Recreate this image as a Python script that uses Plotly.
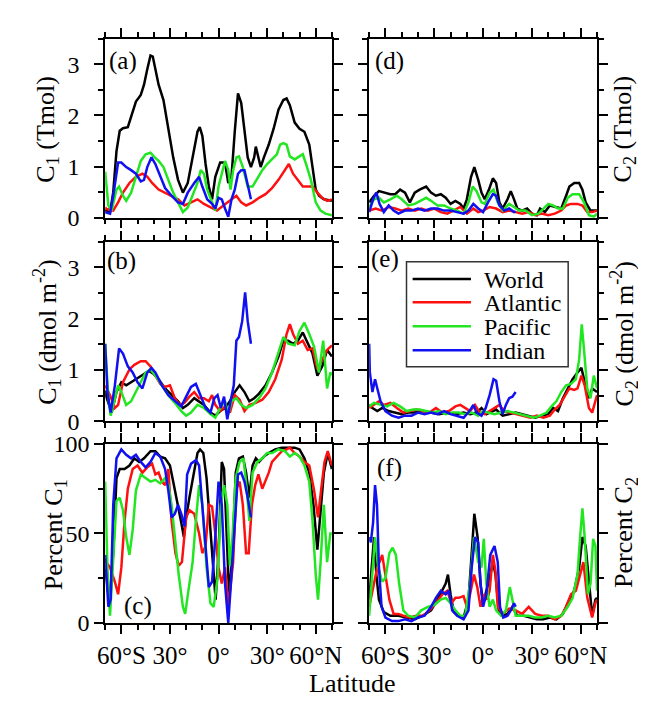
import plotly.graph_objects as go

# ---------------- data: [latitude, value] pairs ----------------
SERIES = ["World", "Atlantic", "Pacific", "Indian"]

# (a) C1 (Tmol)
A_WORLD = [[-70,0.15],[-67,0.1],[-65,0.5],[-63,1.3],[-61,1.7],[-59,1.75],[-56,1.77],[-53,2.1],[-51,2.27],[-48,2.4],[-46,2.6],[-44,2.9],[-42,3.17],[-40.6,3.15],[-39,2.9],[-37,2.6],[-34,2.3],[-31,1.74],[-28,1.18],[-25,0.74],[-22,0.49],[-19,0.68],[-16,1.18],[-13,1.68],[-11.6,1.77],[-10,1.6],[-8,1.05],[-6,0.61],[-4,0.36],[-2,0.8],[1,1.08],[4,1.08],[6,0.68],[8,0.8],[10,1.68],[12,2.43],[14,2.24],[16,1.68],[18,1.18],[20,0.99],[22,1.18],[23,1.39],[24.6,1.18],[26,0.99],[28,1.18],[31,1.43],[34,1.74],[37,2.11],[40,2.3],[42,2.33],[44,2.2],[47,1.86],[50,1.74],[53,1.68],[56,1.43],[58,0.99],[60,0.55],[62,0.43],[65,0.36],[70,0.33]]
A_ATLANTIC = [[-70,0.2],[-69,0.17],[-65,0.14],[-62,0.3],[-59,0.49],[-55,0.68],[-51,0.8],[-47,0.86],[-44,0.8],[-41,0.68],[-37,0.55],[-33,0.49],[-29,0.43],[-25,0.36],[-21,0.24],[-17,0.3],[-13,0.36],[-9,0.27],[-5,0.21],[-1,0.14],[3,0.24],[7,0.33],[11,0.43],[14,0.3],[17,0.24],[21,0.3],[25,0.39],[29,0.46],[33,0.58],[37,0.74],[41,0.93],[43.4,1.05],[46,0.86],[49,0.74],[52,0.61],[55,0.61],[58,0.61],[61,0.49],[64,0.39],[67,0.33],[70,0.36]]
A_PACIFIC = [[-70,0.9],[-68,0.24],[-66,0.14],[-63,0.55],[-61.4,0.61],[-59,0.43],[-57,0.33],[-54,0.49],[-51,0.8],[-48,1.11],[-45,1.24],[-42,1.27],[-40,1.2],[-37,1.11],[-34,0.99],[-31,0.74],[-28,0.49],[-25,0.3],[-22,0.11],[-19,0.2],[-16,0.43],[-13,0.68],[-11,0.93],[-9,0.86],[-7,0.55],[-4,0.3],[-2,0.14],[0,0.61],[2,0.86],[4,1.11],[6,0.93],[7.4,0.55],[9,0.93],[11,1.18],[12.6,1.2],[15,0.99],[18,0.61],[21,0.61],[24,0.77],[27,0.93],[30,1.05],[33,1.14],[36,1.24],[38,1.43],[40,1.46],[42,1.43],[44,1.2],[47,1.14],[50,1.2],[52,1.24],[54,1.05],[57,0.74],[60,0.3],[63,0.14],[66,0.08],[70,0.05]]
A_INDIAN = [[-70,0.11],[-67,0.08],[-65,0.43],[-62,1.08],[-60,1.08],[-57,0.99],[-54,0.93],[-51,0.86],[-48,0.71],[-46,0.74],[-44,0.99],[-41.4,1.18],[-39,1.05],[-36,0.8],[-33,0.58],[-29,0.43],[-25,0.3],[-22,0.27],[-19,0.49],[-15,0.68],[-12,0.8],[-10,0.61],[-7,0.36],[-4,0.27],[-2,0.18],[0,0.39],[2,0.36],[4,0.18],[6,0.02],[8,0.36],[10,0.55],[12,0.86],[14,0.93],[16,0.93],[18,0.61],[20,0.36]]

# (b) C1 (dmol m-2)
B_WORLD = [[-70,0.6],[-69,0.45],[-66,0.17],[-63,0.57],[-60,0.76],[-57,0.7],[-54,0.76],[-51,0.82],[-47,0.89],[-43,0.98],[-40,0.92],[-37,0.82],[-33,0.64],[-29,0.51],[-25,0.39],[-22,0.26],[-19,0.32],[-15,0.45],[-12,0.39],[-9,0.32],[-5,0.17],[-2,0.11],[1,0.2],[4,0.26],[7,0.39],[10,0.57],[13,0.7],[16,0.57],[19,0.39],[22,0.45],[25,0.54],[29,0.7],[33,0.95],[37,1.26],[40,1.57],[43,1.57],[46,1.51],[49,1.57],[52,1.73],[55,1.51],[58,1.32],[61,0.89],[64,1.07],[67,1.39],[70,1.26]]
B_ATLANTIC = [[-70,0.7],[-67,0.51],[-64,0.26],[-62,0.32],[-59,0.76],[-55,1.01],[-52,1.1],[-48,1.17],[-45,1.17],[-42,1.07],[-39,0.89],[-36,0.73],[-33,0.67],[-30,0.7],[-27,0.45],[-24,0.32],[-21,0.36],[-18,0.48],[-15,0.57],[-12,0.45],[-9,0.45],[-6,0.39],[-4,0.51],[-2,0.32],[1,0.2],[4,0.29],[7,0.17],[10,0.51],[13,0.42],[16,0.2],[19,0.32],[23,0.36],[27,0.42],[31,0.57],[35,0.82],[39,1.2],[42,1.7],[44,1.89],[46,1.7],[49,1.51],[52,1.57],[55,1.39],[58,1.42],[61,1.01],[64,1.2],[67,1.39],[70,1.48]]
B_PACIFIC = [[-70,1.51],[-68,0.45],[-66.6,0.11],[-64,0.45],[-62,0.7],[-60,0.57],[-57,0.32],[-54,0.39],[-51,0.57],[-48,0.76],[-45,0.95],[-42,1.01],[-39,0.89],[-35,0.7],[-31,0.51],[-27,0.36],[-23,0.2],[-20,0.11],[-17,0.17],[-13,0.32],[-9,0.26],[-5,0.14],[-2,0.07],[1,0.26],[4,0.39],[6,0.14],[8,0.39],[11,0.45],[14,0.32],[17,0.26],[21,0.32],[25,0.45],[29,0.64],[33,0.95],[37,1.32],[40,1.64],[43,1.51],[47,1.48],[50,1.76],[53,1.92],[56,1.7],[59,1.45],[62,0.95],[64.6,1.57],[67,0.64],[69,0.95],[70,0.9]]
B_INDIAN = [[-70,1.51],[-68.6,0.57],[-66.6,0.17],[-64,0.7],[-61.4,1.42],[-59,1.32],[-56,1.07],[-53,0.95],[-50,0.76],[-47,0.64],[-44,0.95],[-41.4,1.04],[-39,0.95],[-35,0.7],[-31,0.51],[-27,0.39],[-23,0.29],[-20,0.48],[-17,0.67],[-14,0.73],[-11,0.51],[-8,0.26],[-5,0.17],[-2.6,0.45],[-0.6,0.51],[1.4,0.26],[3.4,0.48],[5.4,0.04],[7.4,0.39],[9.4,0.7],[11,1.57],[12.6,1.64],[14.6,1.95],[16.4,2.51],[18,1.95],[20,1.51]]

# (c) Percent C1
C_WORLD = [[-70,30],[-69.4,27],[-67.4,11],[-65,39],[-63,81],[-61,86],[-58,86],[-55,88],[-52,92],[-49,90],[-46,92],[-42,96],[-39,96],[-36,93],[-33,92],[-30,88],[-28,79],[-25,66],[-23,56],[-21.4,48],[-20,59],[-18,70],[-15,84],[-13,95],[-11.4,97],[-9.4,95],[-7.4,81],[-5.4,57],[-3.4,31],[-1.8,13],[0,39],[2,90],[3.4,86],[5,48],[6.6,14],[8.6,39],[10.6,84],[12.6,92],[15,93],[17,84],[19,70],[21,88],[23,92],[25,90],[28,93],[31,95],[35,97],[39,98],[43,98],[47,98],[50,97],[53,92],[56,84],[58.6,66],[61,41],[62.6,57],[65,84],[67.4,95],[70,86]]
C_ATLANTIC = [[-70,36],[-69.4,34],[-67,31],[-64,23],[-62,16],[-60,31],[-58,57],[-56,75],[-53,86],[-50,88],[-47,84],[-44,87],[-41,89],[-39,83],[-37,84],[-35,79],[-33,77],[-31,86],[-29,57],[-26.6,39],[-24.6,32],[-22.6,34],[-20,59],[-18,63],[-15,61],[-12,50],[-10,39],[-8,43],[-6,66],[-4,65],[-2,50],[0,31],[2,22],[4,31],[6,9],[7.4,22],[9,34],[11,75],[13,79],[15,66],[17,39],[18.6,39],[20.6,66],[22.6,77],[24.6,83],[27,75],[29,79],[31,84],[33,90],[36,93],[39,96],[42,97],[44,98],[47,95],[50,93],[53,90],[56,88],[59,74],[61.4,59],[63.4,75],[65.4,90],[67.4,96],[70,88]]
C_PACIFIC = [[-70,79],[-68.6,31],[-67,4],[-65,39],[-63,68],[-61,70],[-59,63],[-57,48],[-55,38],[-53,52],[-51,74],[-48,83],[-45,81],[-42,79],[-39,80],[-36,78],[-33,81],[-31,77],[-29,66],[-27,48],[-24.6,27],[-22,9],[-20.6,5],[-18.6,18],[-16,34],[-14,57],[-12,77],[-10,66],[-7.4,31],[-5,11],[-3,9],[-0.6,25],[1.4,66],[3.4,77],[5.4,66],[7,32],[8.6,48],[10.6,81],[13,90],[15.4,92],[17.4,75],[19,57],[21,84],[24,90],[27,92],[30,95],[33,95],[37,97],[41,96],[44,93],[47,95],[50,93],[53,88],[56,79],[58,57],[60,27],[61.4,13],[63,34],[65,66],[67,34],[69,50],[70,50]]
C_INDIAN = [[-70,38],[-68,9],[-66.6,13],[-65,66],[-63,92],[-60,97],[-57,94],[-54,92],[-51,94],[-48,90],[-45,87],[-42,90],[-39,95],[-36,93],[-33,86],[-31,74],[-29,59],[-27,61],[-25,66],[-23,61],[-21,54],[-19.4,83],[-17,89],[-14,91],[-12,88],[-10,66],[-8,39],[-6,20],[-4,23],[-2,48],[0,79],[2,66],[4,22],[6,0],[8,27],[10,57],[12,83],[14,84],[16,79],[18,70],[20,59]]

# (d) C2 (Tmol)
D_WORLD = [[-70,0.3],[-67,0.43],[-64,0.52],[-61,0.49],[-57,0.46],[-54,0.46],[-51,0.55],[-48,0.49],[-45,0.3],[-42,0.49],[-39,0.55],[-35,0.61],[-32,0.49],[-29,0.43],[-26,0.46],[-23,0.39],[-20,0.27],[-17,0.33],[-14,0.27],[-12,0.18],[-10,0.36],[-7.4,0.8],[-5.4,0.99],[-3,0.74],[-1,0.49],[1,0.36],[3.6,0.55],[6,0.77],[8,0.68],[10,0.3],[12,0.18],[15,0.36],[17,0.52],[19,0.36],[21,0.18],[24,0.14],[27,0.18],[30,0.08],[33,0.05],[35,0.18],[38,0.11],[41,0.24],[44,0.21],[48,0.18],[51,0.43],[53,0.61],[56,0.68],[59,0.68],[61,0.55],[63,0.3],[66,0.14],[70,0.14]]
D_ATLANTIC = [[-70,0.14],[-66,0.18],[-62,0.14],[-58,0.21],[-54,0.18],[-50,0.14],[-46,0.18],[-42,0.14],[-38,0.18],[-34,0.14],[-30,0.18],[-26,0.11],[-22,0.08],[-18,0.14],[-14,0.21],[-10,0.08],[-6,0.18],[-3,0.11],[0,0.14],[4,0.21],[8,0.18],[12,0.11],[16,0.14],[20,0.11],[24,0.08],[28,0.11],[32,0.05],[36,0.08],[40,0.05],[44,0.08],[48,0.14],[51,0.24],[54,0.27],[58,0.27],[61,0.24],[64,0.11],[67,0.11],[70,0.14]]
D_PACIFIC = [[-70,0.21],[-67,0.36],[-64,0.39],[-61,0.3],[-57,0.36],[-53,0.43],[-50,0.36],[-46,0.24],[-42,0.27],[-38,0.33],[-35,0.39],[-32,0.33],[-28,0.24],[-24,0.24],[-20,0.18],[-16,0.14],[-12,0.08],[-9,0.3],[-6.4,0.61],[-4,0.52],[-1,0.3],[1,0.27],[4,0.49],[6.4,0.55],[9,0.3],[12,0.14],[16,0.27],[19,0.21],[22,0.14],[26,0.14],[30,0.05],[34,0.08],[37,0.18],[40,0.27],[43,0.24],[46,0.18],[49,0.18],[52,0.39],[55,0.46],[59,0.46],[62,0.3],[65,0.05],[68,0.02],[70,0.08]]
D_INDIAN = [[-70,0.11],[-67.6,0.36],[-65.6,0.49],[-63.6,0.27],[-61,0.11],[-58,0.24],[-55,0.14],[-52,0.08],[-48,0.14],[-44,0.14],[-40,0.18],[-36,0.14],[-32,0.18],[-28,0.18],[-24,0.14],[-20,0.14],[-16,0.11],[-12,0.08],[-9,0.14],[-6,0.27],[-3,0.18],[0,0.11],[3,0.3],[6,0.46],[8,0.43],[10,0.24],[13,0.14],[16,0.18],[19,0.11],[20,0.12]]

# (e) C2 (dmol m-2)
E_WORLD = [[-70,0.32],[-68,0.26],[-65,0.2],[-62,0.26],[-58,0.2],[-54,0.17],[-50,0.14],[-46,0.17],[-42,0.17],[-37,0.2],[-32,0.17],[-27,0.14],[-22,0.17],[-17,0.14],[-12,0.17],[-8,0.14],[-4,0.17],[-1,0.26],[2,0.14],[6,0.2],[8,0.23],[12,0.11],[16,0.14],[20,0.17],[24,0.14],[28,0.11],[32,0.07],[36,0.11],[40,0.14],[43,0.26],[46,0.2],[49,0.45],[52,0.64],[55,0.82],[58,0.95],[60.4,1.04],[62.4,0.76],[65,0.45],[67,0.64],[70,0.57]]
E_ATLANTIC = [[-70,0.26],[-67,0.32],[-64,0.39],[-61,0.32],[-57,0.36],[-53,0.26],[-49,0.17],[-45,0.2],[-41,0.23],[-37,0.2],[-33,0.17],[-29,0.26],[-25,0.17],[-21,0.2],[-17,0.29],[-14,0.32],[-11,0.26],[-8,0.2],[-5,0.32],[-2,0.17],[1,0.14],[4,0.2],[7,0.26],[10,0.32],[13,0.2],[17,0.17],[21,0.14],[25,0.11],[29,0.07],[33,0.11],[37,0.07],[41,0.11],[44,0.23],[47,0.32],[50,0.48],[53,0.64],[56,0.61],[58,0.64],[60.4,0.89],[62.4,0.7],[65,0.26],[67,0.17],[70,0.51]]
E_PACIFIC = [[-70,0.29],[-67,0.36],[-63,0.32],[-59,0.29],[-55,0.36],[-51,0.29],[-47,0.2],[-43,0.23],[-39,0.23],[-35,0.2],[-31,0.17],[-27,0.2],[-23,0.14],[-19,0.17],[-15,0.17],[-11,0.14],[-7,0.17],[-3,0.11],[0,0.2],[3,0.17],[7,0.14],[11,0.17],[15,0.2],[19,0.17],[23,0.14],[27,0.11],[31,0.07],[35,0.11],[39,0.17],[42,0.29],[45,0.39],[48,0.57],[51,0.7],[54,0.73],[57,0.82],[59,1.2],[60.6,1.89],[62,1.39],[64,0.64],[66,0.45],[68,0.89],[70,0.64]]
E_INDIAN = [[-70,1.51],[-69.6,0.95],[-68,0.57],[-66.4,0.82],[-65,0.64],[-63,0.39],[-60,0.2],[-56,0.11],[-52,0.07],[-48,0.11],[-44,0.11],[-40,0.17],[-36,0.14],[-32,0.17],[-28,0.14],[-24,0.2],[-20,0.14],[-16,0.11],[-12,0.07],[-8.4,0.2],[-6,0.32],[-4,0.17],[-1,0.11],[1.6,0.26],[4,0.51],[6.4,0.82],[8,0.79],[10,0.39],[12,0.14],[14,0.32],[16,0.45],[18,0.48],[20,0.57]]

# (f) Percent C2
F_WORLD = [[-70,13],[-68.4,31],[-67,48],[-65.6,27],[-64,13],[-61,6],[-57,4],[-52,4],[-47,3],[-42,2],[-37,4],[-32,7],[-28,13],[-25,18],[-23,22],[-21.6,27],[-20,16],[-18,6],[-15,4],[-12,3],[-9,13],[-7,39],[-5.4,61],[-3.4,48],[-1.6,22],[0,11],[2,18],[4,25],[6,34],[7.6,27],[9.6,7],[12,4],[15,5],[18,9],[21,4],[25,4],[29,3],[33,2],[37,2],[41,3],[45,2],[49,5],[53,13],[56,18],[59,31],[61,48],[63,43],[65,22],[67,4],[69,13],[70,14]]
F_ATLANTIC = [[-70,9],[-68,18],[-65,31],[-62,38],[-60,27],[-57.6,13],[-55,5],[-52,5],[-49,4],[-45,3],[-41,4],[-37,4],[-33,7],[-29,11],[-25,16],[-22,18],[-19.6,11],[-17,14],[-15,14],[-12,15],[-10,9],[-8,16],[-5.6,27],[-3.6,20],[-1.6,9],[0.4,16],[2.4,13],[4,18],[6,38],[7.6,29],[9,9],[12,5],[16,8],[20,7],[24,5],[28,9],[32,5],[36,4],[40,4],[44,2],[48,4],[51,9],[54,16],[57,18],[59.6,27],[61.6,34],[64,14],[67,3],[69,11],[70,13]]
F_PACIFIC = [[-70,4],[-68.4,25],[-66.4,48],[-64.4,31],[-62,23],[-60,25],[-57.6,39],[-55.6,42],[-53.6,38],[-51.6,22],[-49,7],[-46,4],[-42,3],[-38,7],[-34,9],[-30,10],[-26,13],[-23,14],[-20,11],[-17,7],[-14,4],[-11,4],[-8,22],[-5.6,48],[-3,34],[-1,31],[0.4,47],[2,22],[4,9],[6,13],[8,7],[11,4],[14,7],[16.4,20],[18,13],[20,4],[24,4],[28,4],[32,3],[36,3],[40,4],[44,3],[48,4],[52,9],[55,14],[58,27],[59.6,48],[61,64],[62.4,48],[64.4,16],[66,22],[67.6,47],[69,43],[70,18]]
F_INDIAN = [[-70,48],[-69,45],[-67.6,56],[-66.4,77],[-65.2,66],[-64,31],[-62.4,9],[-60,3],[-56,1],[-52,1],[-48,2],[-44,1],[-40,3],[-36,4],[-32,9],[-29,14],[-26,18],[-23,16],[-21,18],[-19,7],[-16,4],[-12,2],[-9,7],[-7,31],[-5,48],[-3,45],[-1.6,22],[0,9],[2,16],[4.4,38],[7,43],[9,34],[10.4,9],[12.4,3],[15,4],[17,7],[19,11],[20,9]]

X_TICKS = [-60, -30, 0, 30, 60]
X_TICK_TEXT = ["60°S", "30°", "0°", "30°", "60°N"]

# ---------------- figure ----------------
W, H = 646, 703
COLORS = ["#000000", "#ff1010", "#22e622", "#1010f0"]
FONT = "Liberation Serif"

panels = [
    ([A_WORLD, A_ATLANTIC, A_PACIFIC, A_INDIAN], "L", (18.3, 204.3), 3.5),
    ([B_WORLD, B_ATLANTIC, B_PACIFIC, B_INDIAN], "L", (229.0, 415.7), 3.5),
    ([C_WORLD, C_ATLANTIC, C_PACIFIC, C_INDIAN], "L", (439.3, 625.0), 100),
    ([D_WORLD, D_ATLANTIC, D_PACIFIC, D_INDIAN], "R", (18.3, 204.3), 3.5),
    ([E_WORLD, E_ATLANTIC, E_PACIFIC, E_INDIAN], "R", (229.0, 415.7), 3.5),
    ([F_WORLD, F_ATLANTIC, F_PACIFIC, F_INDIAN], "R", (439.3, 625.0), 100),
]
XDOM = {"L": (91.7, 325.0), "R": (363.3, 597.7)}

fig = go.Figure()
layout = dict(
    width=W, height=H, margin=dict(l=0, r=0, t=0, b=0),
    paper_bgcolor="white", plot_bgcolor="white",
    font=dict(family=FONT, size=24, color="black"),
    showlegend=False,
)

for i, (data, side, (ytop, ybot), ymax) in enumerate(panels):
    n = i + 1
    xs = "" if n == 1 else str(n)
    for k, pts in enumerate(data):
        fig.add_trace(go.Scatter(
            x=[p[0] for p in pts], y=[p[1] for p in pts],
            mode="lines", name=SERIES[k],
            line=dict(color=COLORS[k], width=2.5),
            xaxis="x" + xs, yaxis="y" + xs,
        ))
    x0, x1 = XDOM[side]
    bottom_row = (ybot > 600)
    layout["xaxis" + xs] = dict(
        domain=[x0 / W, x1 / W], range=[-70, 70], anchor="y" + xs,
        showline=True, linecolor="black", linewidth=1.5, mirror="allticks",
        ticks="outside", ticklen=9, tickwidth=1.5, tickcolor="black",
        tickmode="array", tickvals=X_TICKS, ticktext=X_TICK_TEXT,
        showticklabels=bottom_row, tickfont=dict(family=FONT, size=25),
        minor=dict(ticks="outside", ticklen=5, tickwidth=1.5, tickcolor="black",
                   tickmode="array", tickvals=[-70, -50, -40, -20, -10, 10, 20, 40, 50, 70]),
        showgrid=False, zeroline=False,
    )
    if ymax == 100:
        yt, ym = [0, 50, 100], [25, 75]
    else:
        yt, ym = [0, 1, 2, 3], [0.5, 1.5, 2.5, 3.5]
    layout["yaxis" + xs] = dict(
        domain=[1 - ybot / H, 1 - ytop / H], range=[0, ymax], anchor="x" + xs,
        showline=True, linecolor="black", linewidth=1.5, mirror="allticks",
        ticks="outside", ticklen=9, tickwidth=1.5, tickcolor="black",
        tickmode="array", tickvals=yt,
        showticklabels=(side == "L"), tickfont=dict(family=FONT, size=24),
        ticklabelstandoff=(0 if ymax == 100 else 10),
        minor=dict(ticks="outside", ticklen=5, tickwidth=1.5, tickcolor="black",
                   tickmode="array", tickvals=ym),
        showgrid=False, zeroline=False,
    )

ann = []
def add_text(text, px, py, size=24, angle=0, xanchor="center"):
    ann.append(dict(text=text, x=px / W, y=1 - py / H, xref="paper", yref="paper",
                    showarrow=False, xanchor=xanchor, yanchor="middle",
                    textangle=angle, font=dict(size=size, family=FONT, color="black")))

# panel letters
add_text("(a)", 110, 42, 25)
add_text("(b)", 109, 249, 25)
add_text("(c)", 125, 607, 25)
add_text("(d)", 384, 42, 25)
add_text("(e)", 380, 247, 25)
add_text("(f)", 384, 464, 25)
# axis titles
add_text("C<sub>1</sub> (Tmol)", 31.7, 112, 26, -90)
add_text("C<sub>1</sub> (dmol m<sup>-2</sup>)", 31.7, 323, 26, -90)
add_text("Percent C<sub>1</sub>", 40, 533, 26, -90)
add_text("C<sub>2</sub> (Tmol)", 625, 112, 26, -90)
add_text("C<sub>2</sub> (dmol m<sup>-2</sup>)", 625, 325, 26, -90)
add_text("Percent C<sub>2</sub>", 627, 531, 26, -90)
add_text("Latitude", 346, 688, 26)

# legend box inside panel (e)
shapes = [dict(type="rect", xref="paper", yref="paper",
               x0=401.7 / W, x1=568 / W, y0=1 - 359 / H, y1=1 - 250 / H,
               line=dict(color="#333333", width=1.5), fillcolor="white", layer="above")]
LEG_Y = [268, 292, 317, 342]
for k, name in enumerate(SERIES):
    yy = 1 - LEG_Y[k] / H
    shapes.append(dict(type="line", xref="paper", yref="paper",
                       x0=408 / W, x1=468 / W, y0=yy, y1=yy,
                       line=dict(color=COLORS[k], width=2.5), layer="above"))
    add_text(name, 479, LEG_Y[k] + 1, 24, 0, "left")

layout["annotations"] = ann
layout["shapes"] = shapes

fig.update_layout(**layout)
fig.write_html("out.html")
